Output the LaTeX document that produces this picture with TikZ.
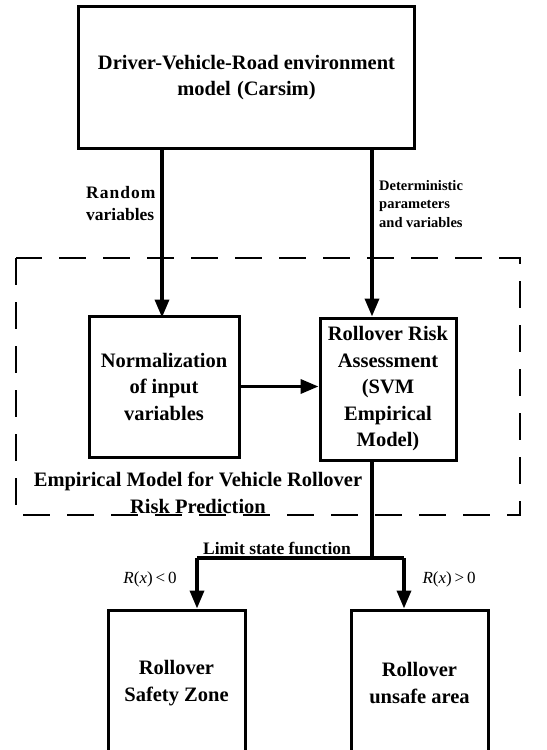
\documentclass[tikz,border=0pt]{standalone}
\usepackage{fontspec}
\setmainfont{Liberation Serif}
\usepackage{tikz}
\usetikzlibrary{arrows.meta,positioning}
\tikzset{
  box/.style={draw=black, line width=3bp, line join=miter, align=center, font=\bfseries\fontsize{20.5bp}{26.5bp}\selectfont, inner sep=0pt},
  arr/.style={draw=black, line width=3.5bp, -{Triangle[length=18bp,width=14bp]}},
  link/.style={draw=black, line width=3.5bp},
  group/.style={draw=black, line width=2.4bp, dash pattern=on 27bp off 17bp},
  lab/.style={align=left, font=\bfseries\fontsize{17.5bp}{22bp}\selectfont, inner sep=0pt},
  labs/.style={align=left, font=\bfseries\fontsize{14.5bp}{18.5bp}\selectfont, inner sep=0pt},
  cond/.style={font=\fontsize{17bp}{20bp}\selectfont, inner sep=0pt},
}
\begin{document}
\begin{tikzpicture}[x=1bp,y=-1bp]
\useasboundingbox (0,0) rectangle (547,750);
\clip (0,0) rectangle (547,750);
% blocks
\node[box, minimum width=335bp, minimum height=141bp] (env) at (246.5,77.5)
  {Driver-Vehicle-Road environment\\model\hspace{0.3em}(Carsim)};
\node[box, minimum width=150bp, minimum height=141bp] (norm) at (164,386.5)
  {Normalization\\of input\\variables};
\node[box, minimum width=136bp, minimum height=142bp] (rra) at (388,389)
  {Rollover Risk\\Assessment\\(SVM\\Empirical\\Model)};
\node[box, minimum width=137bp, minimum height=146bp] (safe) at (176.5,683)
  {Rollover\\Safety Zone};
\node[box, minimum width=137bp, minimum height=146bp] (unsafe) at (419.5,683)
  {Rollover\\unsafe area};
% dashed group
\draw[group] (16,258) rectangle (520,515);
\node[box, draw=none] (cap) at (198,493) {Empirical Model for Vehicle Rollover\\Risk Prediction};
% branch points
\coordinate (dx) at (372,0);
\coordinate (split) at (372,558);
\coordinate (lj) at (197,558);
\coordinate (rj) at (404,558);
% connectors
\draw[arr] (env.south -| norm.north) ++(-2,0) -- ++(0,168);
\draw[arr] (env.south -| dx) -- (rra.north -| dx);
\draw[arr] (norm.east) -- (norm.east -| rra.west);
\draw[link] (rra.south -| dx) -- (split);
\draw[link] (lj) -- (rj);
\draw[arr] (lj) -- (lj |- safe.north);
\draw[arr] (rj) -- (rj |- unsafe.north);
% labels
\node[lab, anchor=west] (rnd) at (86,204) {R\kern1bp a\kern1bp n\kern1bp d\kern1bp o\kern1bp m\\variables};
\node[labs, anchor=west] (det) at (379,204) {Deterministic\\parameters\\and variables};
\node[lab, anchor=south] (lsf) at (277,555) {Limit state function};
\node[cond] (neg) at (150,579) {\textit{R}(\textit{x})\,<\,0};
\node[cond] (pos) at (449,579) {\textit{R}(\textit{x})\,>\,0};
\end{tikzpicture}
\end{document}
